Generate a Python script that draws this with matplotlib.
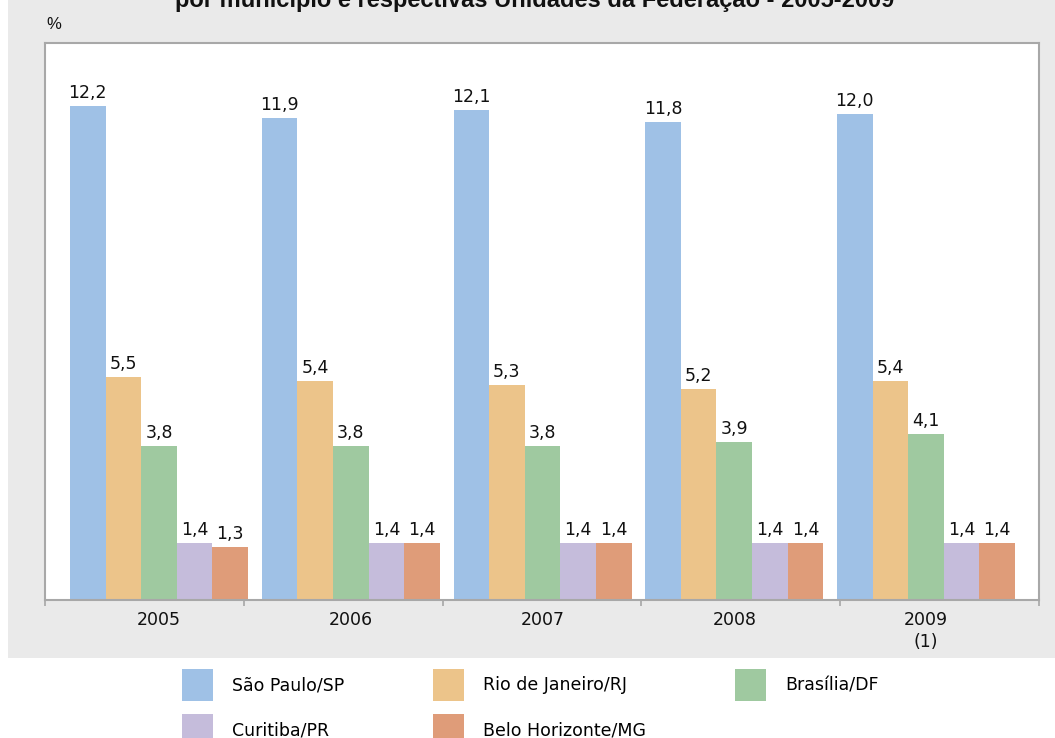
import matplotlib
matplotlib.use("Agg")
import matplotlib.pyplot as plt
import numpy as np
from matplotlib.patches import Rectangle, Patch

years = ["2005", "2006", "2007", "2008", "2009\n(1)"]
series_names = ["São Paulo/SP", "Rio de Janeiro/RJ", "Brasília/DF", "Curitiba/PR", "Belo Horizonte/MG"]
sao_paulo = [12.2, 11.9, 12.1, 11.8, 12.0]
rio = [5.5, 5.4, 5.3, 5.2, 5.4]
brasilia = [3.8, 3.8, 3.8, 3.9, 4.1]
curitiba = [1.4, 1.4, 1.4, 1.4, 1.4]
belo_horizonte = [1.3, 1.4, 1.4, 1.4, 1.4]
colors = ["#9FC1E6", "#ECC48A", "#9FC9A0", "#C5BCDB", "#DF9C79"]
title = "por município e respectivas Unidades da Federação - 2005-2009"

W, H = 1055, 738
fig = plt.figure(figsize=(W / 100, H / 100), dpi=100)
fig.patch.set_facecolor("white")

# gray panel
fig.patches.append(Rectangle((8 / W, (H - 658) / H), (W - 8) / W, 658 / H,
                             transform=fig.transFigure, facecolor="#EAEAEA",
                             edgecolor="none", zorder=-10))

ax_l, ax_r, ax_t, ax_b = 45, 1039, 43, 600
ax = fig.add_axes([ax_l / W, (H - ax_b) / H, (ax_r - ax_l) / W, (ax_b - ax_t) / H])
ax.set_facecolor("white")

data = [sao_paulo, rio, brasilia, curitiba, belo_horizonte]
x = np.arange(len(years))
bw = 0.1857
for i, (vals, col, name) in enumerate(zip(data, colors, series_names)):
    off = (i - 2) * bw
    bars = ax.bar(x + off, vals, bw, color=col, label=name, zorder=2)
    ax.bar_label(bars, labels=[f"{v:.1f}".replace(".", ",") for v in vals],
                 padding=3, fontsize=12.5, family="DejaVu Sans", color="#111111")

xmin, xmax = -0.5945, 4.589
ax.set_xlim(xmin, xmax)
ax.set_ylim(0, 13.75)
ax.set_yticks([])
ax.set_xticks(x)
ax.set_xticklabels(years, fontsize=12.5, family="DejaVu Sans", linespacing=1.3)
ax.tick_params(axis="x", which="major", length=0, pad=8, colors="#111111")
ax.set_xticks(np.linspace(xmin, xmax, 6), minor=True)
ax.tick_params(axis="x", which="minor", length=4, width=1.2, color="#A6A6A6", direction="out")
for s in ax.spines.values():
    s.set_color("#A8A8A8")
    s.set_linewidth(1.5)

fig.text(535 / W, 1 - 7 / H, title, ha="center", va="baseline",
         fontsize=17, fontweight="bold", family="Liberation Sans", color="#111111")
fig.text(46 / W, 1 - 29 / H, "%", ha="left", va="baseline",
         fontsize=12, family="Liberation Sans", color="#111111")

handles = [Patch(facecolor=c, edgecolor="none") for c in colors]
order = [0, 3, 1, 4, 2]
lfs_pt = 12.5
fs = lfs_pt * 100 / 72
# legend patch height = fs*(0.65*hh + 0.245)
hh = (32 / fs - 0.245) / 0.65
fig.legend([handles[i] for i in order], [series_names[i] for i in order],
           ncol=3, loc="upper left", bbox_to_anchor=(182 / W, 1 - 669 / H),
           frameon=False, borderpad=0, borderaxespad=0,
           prop={"family": "DejaVu Sans", "size": lfs_pt},
           handlelength=31 / fs, handleheight=hh, handletextpad=19 / fs,
           columnspacing=89 / fs, labelspacing=13 / fs)

fig.savefig("out.png", dpi=100)
